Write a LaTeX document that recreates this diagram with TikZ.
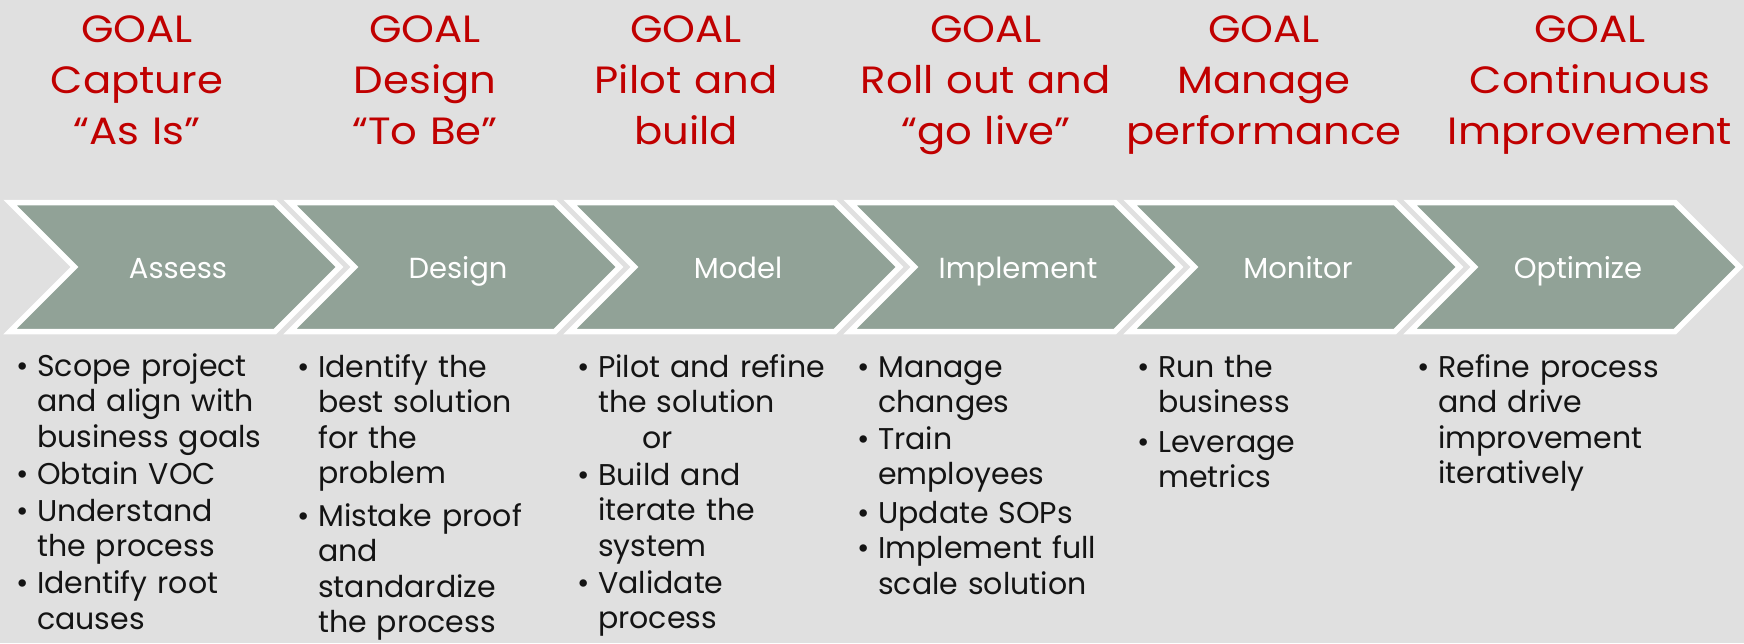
\documentclass[tikz,border=0pt]{standalone}
\usepackage{fontspec}
\setmainfont{Poppins}
\newfontfamily\goalfont{Poppins}[FakeStretch=1.1]
\definecolor{bg}{RGB}{224,224,224}
\definecolor{chevfill}{RGB}{145,162,151}
\definecolor{goalred}{RGB}{192,0,0}
\definecolor{bodytext}{RGB}{20,20,20}
\newcommand\bu{\leavevmode\llap{\textbullet\hspace{8pt}}}
\tikzset{
  chev/.style={fill=chevfill, draw=white, line width=5.5pt, line join=miter},
  goal/.style={text=goalred, font=\goalfont\fontsize{38}{51}\selectfont, align=center, text width=330pt, inner sep=0pt, anchor=north},
  lab/.style={text=white, font=\fontsize{29}{36}\selectfont, anchor=base, inner sep=0pt},
  bul/.style={text=bodytext, font=\fontsize{30}{35.5}\selectfont, align=left, text width=300pt, inner sep=0pt, anchor=north west}
}
\begin{document}
\begin{tikzpicture}[x=1pt,y=-1pt]
\useasboundingbox (0,0) rectangle (1744,643);
\fill[bg] (0,0) rectangle (1744,643);
% chevrons
\foreach \i in {0,...,5}{
  \pgfmathsetmacro\L{10+280*\i}
  \path[chev] (\L,202.5) -- ++(265,0) -- ++(64.5,64.5) -- ++(-64.5,64.5) -- ++(-265,0) -- ++(64.5,-64.5) -- cycle;
}
% chevron labels
\node[lab] (assess)    at (178,278)  {Assess};
\node[lab] (design)    at (458,278)  {Design};
\node[lab] (model)     at (738,278)  {Model};
\node[lab] (implement) at (1018,278) {Implement};
\node[lab] (monitor)   at (1298,278) {Monitor};
\node[lab] (optimize)  at (1578,278) {Optimize};
% goals
\node[goal] (g1) at (137,6.3)  {\strut GOAL\\Capture\\“As Is”};
\node[goal] (g2) at (425,6.3)  {\strut GOAL\\Design\\“To Be”};
\node[goal] (g3) at (686,6.3)  {\strut GOAL\\Pilot and\\build};
\node[goal] (g4) at (986,6.3)  {\strut GOAL\\Roll out and\\“go live”};
\node[goal] (g5) at (1264,6.3) {\strut GOAL\\Manage\\performance};
\node[goal] (g6) at (1590,6.3) {\strut GOAL\\Continuous\\Improvement};
% bullet lists
\node[bul] (b1) at (37,351.15) {\bu\strut Scope project\\ and align with\\ business goals\\[1.5pt] \bu Obtain VOC\\[1.5pt] \bu Understand\\ the process\\[1.5pt] \bu Identify root\\ causes};
\node[bul] (b2) at (318,352.15) {\bu\strut Identify the\\ best solution\\ for the\\ problem\\[7pt] \bu Mistake proof\\ and\\ standardize\\ the process};
\node[bul] (b3) at (598,352.15) {\bu\strut Pilot and refine\\ the solution\\ \hspace*{44pt}or\\[1.5pt] \bu Build and\\ iterate the\\ system\\[1.5pt] \bu Validate\\ process};
\node[bul] (b4) at (878,352.15) {\bu\strut Manage\\ changes\\[1pt] \bu Train\\ employees\\[3pt] \bu Update SOPs\\[0pt] \bu Implement full\\ scale solution};
\node[bul] (b5) at (1158,352.15) {\bu\strut Run the\\ business\\[4pt] \bu Leverage\\ metrics};
\node[bul] (b6) at (1438,352.15) {\bu\strut Refine process\\ and drive\\ improvement\\ iteratively};
\end{tikzpicture}
\end{document}
